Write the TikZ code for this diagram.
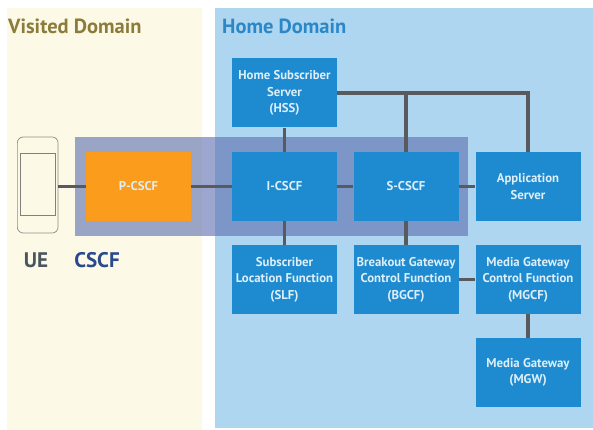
\documentclass[tikz,border=0pt]{standalone}
\usepackage{fontspec}
\setmainfont{PT Sans}
\usetikzlibrary{positioning}
\definecolor{visitedbg}{HTML}{FCFAE6}
\definecolor{homebg}{HTML}{AFD6F0}
\definecolor{boxblue}{HTML}{1E8BD0}
\definecolor{boxorange}{HTML}{FB9C1C}
\definecolor{bandblue}{HTML}{5A6CAE}
\definecolor{linkgrey}{HTML}{585A5E}
\definecolor{visitedtxt}{HTML}{8C7B3A}
\definecolor{hometxt}{HTML}{2B88C8}
\definecolor{uetxt}{HTML}{4A5560}
\definecolor{cscftxt}{HTML}{2A4A90}
\tikzset{
  funcbox/.style={fill=boxblue,text=white!85!boxblue,minimum width=3.15cm,minimum height=2.07cm,
    align=center,inner sep=0pt,font=\fontsize{10.9}{14.2}\selectfont\bfseries},
  orangebox/.style={funcbox,fill=boxorange},
  link/.style={draw=linkgrey,line width=2.6pt},
  title/.style={anchor=west,inner sep=0pt,font=\fontsize{17.5}{20}\selectfont\bfseries},
  biglabel/.style={anchor=center,inner sep=0pt,font=\fontsize{18}{20}\selectfont\bfseries}
}
\begin{document}
\begin{tikzpicture}[x=0.03cm,y=-0.03cm]

% Page
\fill[white] (0,0) rectangle (593,430);
\useasboundingbox (0,0) rectangle (593,430);

%------------------------
% Domains
%------------------------
\fill[visitedbg] (7,8) rectangle (202,430);
\fill[homebg] (215,8) rectangle (593,428);
\node[title,text=visitedtxt] (visited) at (8,26) {Visited Domain};
\node[title,text=hometxt] (home) at (222,26) {Home Domain};

%------------------------
% CSCF band
%------------------------
\fill[bandblue,opacity=0.6] (75,137) rectangle (468,236);

%------------------------
% Functions
%------------------------
\node[funcbox] (hss) at (284.5,93) {Home Subscriber\\Server\\(HSS)};
\node[orangebox] (pcscf) at (138.5,186.5) {P-CSCF};
\node[funcbox] (icscf) at (284.5,186.5) {I-CSCF};
\node[funcbox] (scscf) at (406,186.5) {S-CSCF};
\node[funcbox] (appsrv) at (528,186.5) {Application\\Server};
\node[funcbox] (slf) at (284.5,279.5) {Subscriber\\Location Function\\(SLF)};
\node[funcbox] (bgcf) at (406,279.5) {Breakout Gateway\\Control Function\\(BGCF)};
\node[funcbox] (mgcf) at (528,279.5) {Media Gateway\\Control Function\\(MGCF)};
\node[funcbox] (mgw) at (528,372.5) {Media Gateway\\(MGW)};

%------------------------
% UE
%------------------------
\node[draw=black!45,line width=0.6pt,rounded corners=5pt,minimum width=1.22cm,minimum height=2.88cm,inner sep=0pt] (ue) at (37.7,185) {};
\node[draw=black!50,line width=0.6pt,minimum width=1.04cm,minimum height=1.84cm,inner sep=0pt] (screen) at (37.7,184.5) {};
\node[biglabel,text=uetxt] (uelabel) at (36,260) {UE};
\node[biglabel,text=cscftxt] (cscflabel) at (97,260) {CSCF};

%------------------------
% Links
%------------------------
\draw[link] (pcscf.west) -- (pcscf.west -| ue.east);
\draw[link] (pcscf) -- (icscf);
\draw[link] (icscf) -- (scscf);
\draw[link] (scscf) -- (appsrv);
\draw[link] (hss) -- (icscf);
\draw[link] (icscf) -- (slf);
\draw[link] (scscf) -- (bgcf);
\draw[link] (bgcf) -- (mgcf);
\draw[link] (mgcf) -- (mgw);
\draw[link] (hss.east) -| (appsrv.north);
\draw[link] (scscf.north) -- (scscf.north |- hss.east);

\end{tikzpicture}
\end{document}
